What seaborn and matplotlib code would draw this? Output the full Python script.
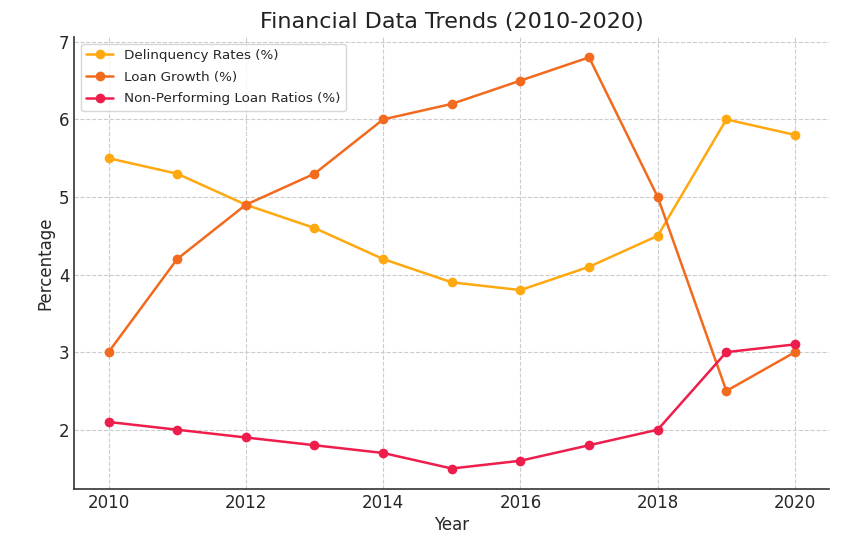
import matplotlib
matplotlib.use("Agg")
import matplotlib.pyplot as plt
import seaborn as sns
import pandas as pd

years = [2010, 2011, 2012, 2013, 2014, 2015, 2016, 2017, 2018, 2019, 2020]
delinquency = [5.5, 5.3, 4.9, 4.6, 4.2, 3.9, 3.8, 4.1, 4.5, 6.0, 5.8]
loan_growth = [3.0, 4.2, 4.9, 5.3, 6.0, 6.2, 6.5, 6.8, 5.0, 2.5, 3.0]
npl_ratio = [2.1, 2.0, 1.9, 1.8, 1.7, 1.5, 1.6, 1.8, 2.0, 3.0, 3.1]
series_names = ["Delinquency Rates (%)", "Loan Growth (%)", "Non-Performing Loan Ratios (%)"]
colors = ["#FFA80F", "#F26A1E", "#EE1E4C"]

sns.set_theme(style="ticks")
plt.rcParams['font.family'] = ['DejaVu Sans']
plt.rcParams['font.sans-serif'] = ['DejaVu Sans']

df = pd.DataFrame({"Year": years * 3,
                   "Value": delinquency + loan_growth + npl_ratio,
                   "Series": sum([[n] * len(years) for n in series_names], [])})

fig, ax = plt.subplots(figsize=(8.63, 5.41), dpi=100)
sns.lineplot(data=df, x="Year", y="Value", hue="Series", palette=colors,
             marker="o", markersize=7, markeredgewidth=0, linewidth=1.8, ax=ax)

ax.set_title("Financial Data Trends (2010-2020)", fontsize=16, color="#222222",
             family="DejaVu Sans")
ax.set_xlabel("Year", fontsize=12, family="DejaVu Sans", labelpad=3)
ax.set_ylabel("Percentage", fontsize=12, family="DejaVu Sans", labelpad=3)
ax.tick_params(labelsize=12, length=0, pad=3.5)
for lab in ax.get_xticklabels() + ax.get_yticklabels():
    lab.set_family("DejaVu Sans")
ax.grid(True, linestyle="--", color="#cccccc", linewidth=0.8)
ax.set_axisbelow(True)
for s in ["top", "right"]:
    ax.spines[s].set_visible(False)
for s in ["left", "bottom"]:
    ax.spines[s].set_color("#333333")
    ax.spines[s].set_linewidth(1.2)
leg = ax.legend(title=None, loc="upper left", labelspacing=0.65,
                prop={"family": "DejaVu Sans", "size": 9.7})

fig.subplots_adjust(left=0.086, right=0.961, top=0.932, bottom=0.096)
fig.savefig("out.png", dpi=100)
